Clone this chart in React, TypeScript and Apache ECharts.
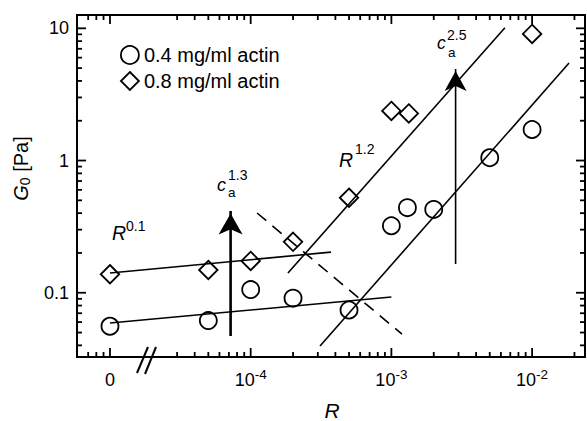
import React, { useEffect, useRef } from 'react';
import * as echarts from 'echarts';

// ---------- data (R in absolute units, G0 in Pa) ----------
// R = 0 is drawn at the broken-axis position of 1e-5
const ZERO_AT = 1e-5;

const circleName = '0.4 mg/ml actin';
const circleR = [0, 5e-5, 1e-4, 2e-4, 5e-4, 1e-3, 1.3e-3, 2e-3, 5e-3, 1e-2];
const circleG = [0.0558, 0.0616, 0.1057, 0.091, 0.074, 0.321, 0.44, 0.427, 1.05, 1.716];

const diamondName = '0.8 mg/ml actin';
const diamondR = [0, 5e-5, 1e-4, 2e-4, 5e-4, 1e-3, 1.33e-3, 1e-2];
const diamondG = [0.138, 0.1486, 0.174, 0.243, 0.523, 2.37, 2.27, 9.06];

// power-law guide lines: [R1, G1, R2, G2]
const fitLowCircle = [0, 0.059, 1e-3, 0.0928];          // R^0.1
const fitLowDiamond = [0, 0.141, 3.72e-4, 0.203];       // R^0.1
const fitHighDiamond = [1.84e-4, 0.141, 6.41e-3, 10.1]; // R^1.2
const fitHighCircle = [3.11e-4, 0.0395, 1.83e-2, 5.46]; // R^1.2
const dashedLine = [1.11e-4, 0.401, 1.19e-3, 0.0486];

// arrows: [R, G from, G tip]
const arrowLow = [7.2e-5, 0.047, 0.477];   // c_a^1.3
const arrowHigh = [2.86e-3, 0.165, 5.66];  // c_a^2.5

// axis ranges
const xRange = [5.83e-6, 2.377e-2];
const yRange = [0.03266, 12.61];

// ticks
const xMajor = [0, 1e-4, 1e-3, 1e-2];
const xMinor = [7e-6, 8e-6, 9e-6, 3e-5, 4e-5, 5e-5, 6e-5, 7e-5, 8e-5, 9e-5,
  2e-4, 3e-4, 4e-4, 5e-4, 6e-4, 7e-4, 8e-4, 9e-4,
  2e-3, 3e-3, 4e-3, 5e-3, 6e-3, 7e-3, 8e-3, 9e-3, 2e-2];
const yMajor = [0.1, 1, 10];
const yMinor = [0.04, 0.05, 0.06, 0.07, 0.08, 0.09, 0.2, 0.3, 0.4, 0.5, 0.6, 0.7, 0.8, 0.9,
  2, 3, 4, 5, 6, 7, 8, 9];

const FONT = '"Liberation Sans", Arial, Helvetica, sans-serif';
const lx = (r: number) => Math.log10(r === 0 ? ZERO_AT : r);
const ly = (g: number) => Math.log10(g);

function seg(a: number[]) {
  return [[lx(a[0]), ly(a[1])], [lx(a[2]), ly(a[3])]];
}

const MAJOR_LEN = 9;
const MINOR_LEN = 5;
const TICK_W = 1.8;

export default function App() {
  const ref = useRef<HTMLDivElement>(null);
  useEffect(() => {
    if (!ref.current) return;
    const chart = echarts.init(ref.current, undefined, { renderer: 'svg' });

    const xMin = lx(xRange[0]), xMax = lx(xRange[1]);
    const yMin = ly(yRange[0]), yMax = ly(yRange[1]);
    const zeroLog = lx(0);

    // tick marks drawn as thin rect symbols, placed through the axis scales, pointing inwards
    const tickSeries = (data: number[][], vertical: boolean, len: number, dir: number) => ({
      type: 'scatter', silent: true, z: 8, clip: false,
      data,
      symbol: 'rect',
      symbolSize: vertical ? [TICK_W, len] : [len, TICK_W],
      symbolOffset: vertical ? [0, dir * len / 2] : [dir * len / 2, 0],
      itemStyle: { color: '#000', opacity: 1 },
      emphasis: { disabled: true },
    });
    const tickSeriesList = [
      tickSeries(xMajor.map((v) => [lx(v), yMin]), true, MAJOR_LEN, -1),
      tickSeries(xMinor.map((v) => [lx(v), yMin]), true, MINOR_LEN, -1),
      tickSeries(xMajor.map((v) => [lx(v), yMax]), true, MAJOR_LEN, 1),
      tickSeries(xMinor.map((v) => [lx(v), yMax]), true, MINOR_LEN, 1),
      tickSeries(yMajor.map((v) => [xMin, ly(v)]), false, MAJOR_LEN, 1),
      tickSeries(yMinor.map((v) => [xMin, ly(v)]), false, MINOR_LEN, 1),
      tickSeries(yMajor.map((v) => [xMax, ly(v)]), false, MAJOR_LEN, -1),
      tickSeries(yMinor.map((v) => [xMax, ly(v)]), false, MINOR_LEN, -1),
    ];

    const lineSeries = (a: number[], extra: any = {}) => ({
      type: 'line', data: seg(a), symbol: 'none', showSymbol: false, silent: true, z: 2,
      lineStyle: { color: '#000', width: 1.6, ...extra },
    });

    const arrowSeries = (a: number[], width: number, head: number[]) => [
      {
        type: 'line', symbol: 'none', silent: true, z: 3,
        data: [[lx(a[0]), ly(a[1])], [lx(a[0]), ly(a[2]) - 0.06]],
        lineStyle: { color: '#000', width },
      },
      {
        type: 'scatter', silent: true, z: 4,
        data: [[lx(a[0]), ly(a[2])]],
        symbol: 'arrow', symbolSize: head, symbolOffset: [0, '50%'],
        itemStyle: { color: '#000', opacity: 1 },
      },
    ];

    const txt = (text: string, x: number, y: number, size: number, italic = false, align = 'left') => ({
      type: 'text', x, y, silent: true, z: 100,
      style: {
        text, fill: '#000', fontSize: size, fontFamily: FONT, fontStyle: italic ? 'italic' : 'normal',
        align, textAlign: align, verticalAlign: 'middle', textVerticalAlign: 'middle',
      },
    });

    chart.setOption({
      animation: false,
      backgroundColor: '#fff',
      grid: {
        left: 77, right: 2, top: 15, bottom: 64, containLabel: false,
        show: true, borderColor: '#000', borderWidth: 2, backgroundColor: 'transparent',
      },
      xAxis: {
        type: 'value', min: xMin, max: xMax,
        splitLine: { show: false }, axisLine: { show: false, onZero: false }, axisTick: { show: false },
        axisLabel: {
          show: true, margin: 10, customValues: xMajor.map(lx),
          formatter: (v: number) => Math.abs(v - zeroLog) < 1e-9 ? '{b|0}' : '{b|10}{s|' + Math.round(v) + '}',
          rich: {
            b: { fontSize: 18, fontFamily: FONT, color: '#000', lineHeight: 26 },
            s: { fontSize: 13.5, fontFamily: FONT, color: '#000', verticalAlign: 'top', lineHeight: 13 },
          },
        },
      },
      yAxis: {
        type: 'value', min: yMin, max: yMax,
        splitLine: { show: false }, axisLine: { show: false, onZero: false }, axisTick: { show: false },
        axisLabel: {
          show: true, margin: 8, customValues: yMajor.map(ly),
          fontSize: 18, fontFamily: FONT, color: '#000',
          formatter: (v: number) => String(+Math.pow(10, v).toPrecision(3)),
        },
      },
      legend: {
        show: true, orient: 'vertical', left: 115, top: 40, itemWidth: 18, itemHeight: 18, itemGap: 6,
        selectedMode: false, data: [circleName, diamondName],
        textStyle: { fontSize: 20, fontFamily: FONT, color: '#000' },
        itemStyle: { color: 'transparent', borderColor: '#000', borderWidth: 1.8, opacity: 1 },
      },
      series: [
        ...tickSeriesList,
        lineSeries(fitLowCircle),
        lineSeries(fitLowDiamond),
        lineSeries(fitHighDiamond),
        lineSeries(fitHighCircle),
        lineSeries(dashedLine, { type: [12, 8] }),
        ...arrowSeries(arrowLow, 2.6, [18, 21]),
        ...arrowSeries(arrowHigh, 1.6, [16.5, 20]),
        {
          type: 'scatter', name: circleName, z: 5,
          data: circleR.map((r, i) => [lx(r), ly(circleG[i])]),
          symbol: 'circle', symbolSize: 17,
          itemStyle: { color: 'transparent', borderColor: '#000', borderWidth: 1.8, opacity: 1 },
        },
        {
          type: 'scatter', name: diamondName, z: 5,
          data: diamondR.map((r, i) => [lx(r), ly(diamondG[i])]),
          symbol: 'diamond', symbolSize: 18.5,
          itemStyle: { color: 'transparent', borderColor: '#000', borderWidth: 1.8, opacity: 1 },
        },
      ],
      graphic: [
        // axis break marks
        { type: 'line', silent: true, z: 100, shape: { x1: 137, y1: 373, x2: 148, y2: 347 }, style: { stroke: '#000', lineWidth: 2 } },
        { type: 'line', silent: true, z: 100, shape: { x1: 145, y1: 374, x2: 156, y2: 347 }, style: { stroke: '#000', lineWidth: 2 } },
        // R^0.1
        txt('R', 112, 233, 19.5, true),
        txt('0.1', 126, 225.5, 14),
        // R^1.2
        txt('R', 339, 159.5, 19.5, true),
        txt('1.2', 355, 148.5, 14),
        // c_a^1.3
        txt('c', 217, 185, 18, true),
        txt('a', 228, 192.5, 13.5),
        txt('1.3', 228, 175, 14),
        // c_a^2.5
        txt('c', 437, 42.5, 17.5, true),
        txt('a', 448, 52, 13.5),
        txt('2.5', 447, 34.5, 14),
        // x axis title
        txt('R', 332, 410.5, 21, true, 'center'),
        // y axis title
        {
          type: 'text', x: 21, y: 168.5, rotation: Math.PI / 2, silent: true, z: 100,
          style: {
            text: '{g|G}{s|0}{t| [Pa]}',
            align: 'center', textAlign: 'center', verticalAlign: 'middle', textVerticalAlign: 'middle',
            rich: {
              g: { fontSize: 20, fontStyle: 'italic', fontFamily: FONT, fill: '#000', color: '#000', lineHeight: 22 },
              s: { fontSize: 14, fontFamily: FONT, fill: '#000', color: '#000', verticalAlign: 'bottom', lineHeight: 14 },
              t: { fontSize: 20, fontFamily: FONT, fill: '#000', color: '#000', lineHeight: 22 },
            },
          },
        },
      ],
    });
    return () => chart.dispose();
  }, []);
  return <div ref={ref} style={{ position: 'fixed', left: 0, top: 0, width: 587, height: 421 }} />;
}
